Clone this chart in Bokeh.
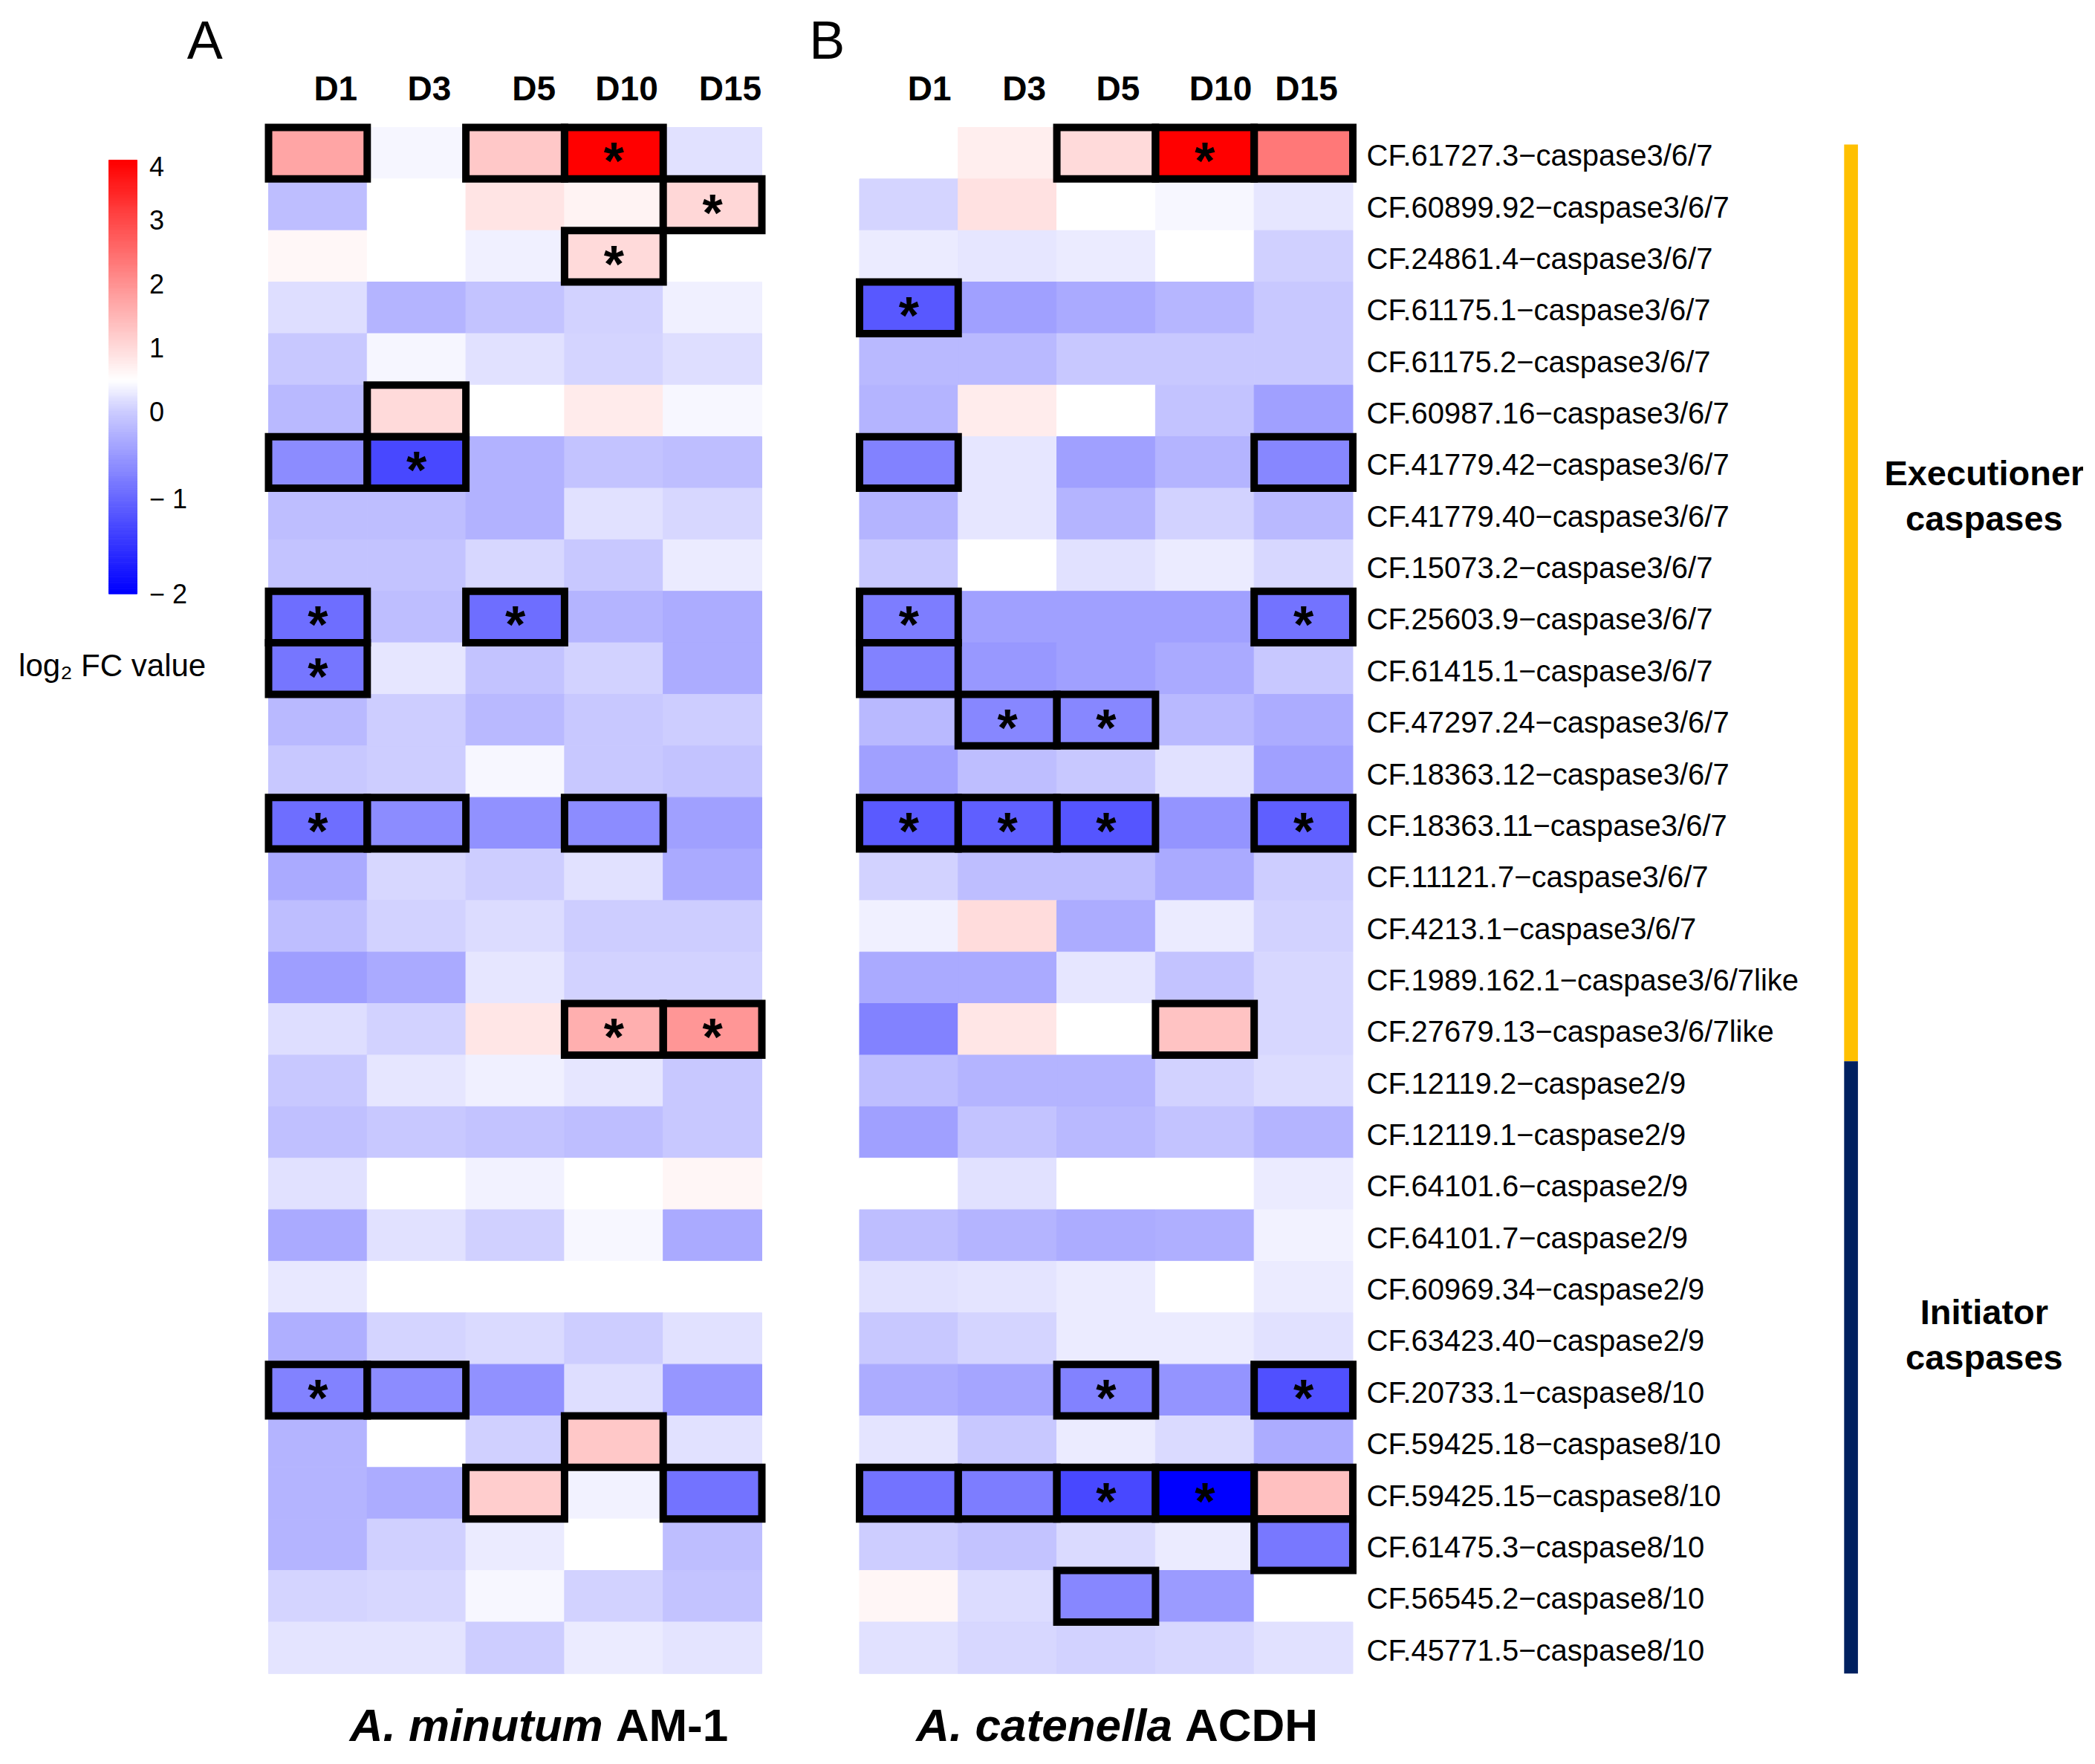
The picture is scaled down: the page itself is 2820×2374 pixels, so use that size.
import numpy as np
from bokeh.plotting import figure
from bokeh.models import Range1d, ColumnDataSource, LinearColorMapper
from bokeh.transform import transform
from bokeh.core.properties import value
from bokeh.embed import file_html
from bokeh.resources import INLINE

# ---------------- data ----------------
genes = [
    "CF.61727.3−caspase3/6/7", "CF.60899.92−caspase3/6/7", "CF.24861.4−caspase3/6/7",
    "CF.61175.1−caspase3/6/7", "CF.61175.2−caspase3/6/7", "CF.60987.16−caspase3/6/7",
    "CF.41779.42−caspase3/6/7", "CF.41779.40−caspase3/6/7", "CF.15073.2−caspase3/6/7",
    "CF.25603.9−caspase3/6/7", "CF.61415.1−caspase3/6/7", "CF.47297.24−caspase3/6/7",
    "CF.18363.12−caspase3/6/7", "CF.18363.11−caspase3/6/7", "CF.11121.7−caspase3/6/7",
    "CF.4213.1−caspase3/6/7", "CF.1989.162.1−caspase3/6/7like", "CF.27679.13−caspase3/6/7like",
    "CF.12119.2−caspase2/9", "CF.12119.1−caspase2/9", "CF.64101.6−caspase2/9",
    "CF.64101.7−caspase2/9", "CF.60969.34−caspase2/9", "CF.63423.40−caspase2/9",
    "CF.20733.1−caspase8/10", "CF.59425.18−caspase8/10", "CF.59425.15−caspase8/10",
    "CF.61475.3−caspase8/10", "CF.56545.2−caspase8/10", "CF.45771.5−caspase8/10",
]
days = ["D1", "D3", "D5", "D10", "D15"]

# log2 FC, A. minutum AM-1 (rows = genes, cols = days)
am_values = [
    [1.74, 0.41, 1.25, 4.00, 0.21],
    [-0.14, 0.50, 0.87, 0.66, 1.05],
    [0.61, 0.50, 0.35, 1.01, 0.50],
    [0.18, -0.24, -0.09, 0.06, 0.35],
    [-0.04, 0.41, 0.21, 0.08, 0.18],
    [-0.19, 1.01, 0.50, 0.77, 0.42],
    [-0.63, -1.29, -0.25, -0.09, -0.14],
    [-0.14, -0.14, -0.25, 0.21, 0.11],
    [-0.09, -0.09, 0.11, -0.04, 0.30],
    [-0.92, -0.14, -0.92, -0.24, -0.31],
    [-0.84, 0.25, -0.09, 0.06, -0.31],
    [-0.19, 0.01, -0.19, -0.04, 0.01],
    [-0.04, 0.01, 0.42, -0.04, -0.09],
    [-0.92, -0.63, -0.58, -0.63, -0.43],
    [-0.33, 0.11, 0.01, 0.21, -0.33],
    [-0.14, 0.06, 0.16, 0.01, 0.01],
    [-0.45, -0.33, 0.25, 0.06, 0.06],
    [0.18, 0.06, 0.84, 1.60, 1.94],
    [-0.04, 0.25, 0.35, 0.25, -0.04],
    [-0.12, -0.04, -0.09, -0.14, -0.04],
    [0.21, 0.50, 0.37, 0.50, 0.62],
    [-0.33, 0.21, 0.04, 0.42, -0.33],
    [0.27, 0.50, 0.50, 0.50, 0.50],
    [-0.28, 0.08, 0.14, 0.01, 0.21],
    [-0.73, -0.63, -0.58, 0.18, -0.53],
    [-0.24, 0.50, 0.04, 1.25, 0.21],
    [-0.24, -0.31, 1.19, 0.37, -0.87],
    [-0.24, 0.04, 0.30, 0.50, -0.14],
    [0.08, 0.11, 0.42, 0.06, -0.09],
    [0.24, 0.24, 0.01, 0.30, 0.24],
]

# log2 FC, A. catenella ACDH
ac_values = [
    [0.50, 0.73, 1.01, 4.00, 2.35],
    [0.08, 0.91, 0.50, 0.42, 0.25],
    [0.30, 0.25, 0.30, 0.50, 0.04],
    [-1.14, -0.43, -0.33, -0.22, -0.04],
    [-0.19, -0.19, -0.04, -0.04, -0.04],
    [-0.24, 0.76, 0.50, -0.09, -0.43],
    [-0.73, 0.25, -0.43, -0.24, -0.68],
    [-0.24, 0.25, -0.24, 0.06, -0.19],
    [-0.04, 0.50, 0.21, 0.30, 0.11],
    [-0.77, -0.43, -0.43, -0.43, -0.87],
    [-0.73, -0.51, -0.43, -0.33, -0.04],
    [-0.19, -0.68, -0.68, -0.19, -0.31],
    [-0.43, -0.14, -0.04, 0.21, -0.43],
    [-1.12, -1.07, -1.17, -0.55, -1.07],
    [0.06, -0.14, -0.14, -0.33, 0.01],
    [0.35, 0.98, -0.31, 0.30, 0.06],
    [-0.33, -0.33, 0.25, -0.09, 0.11],
    [-0.73, 0.84, 0.50, 1.32, 0.11],
    [-0.14, -0.24, -0.24, 0.06, 0.16],
    [-0.43, -0.09, -0.19, -0.09, -0.24],
    [0.50, 0.21, 0.50, 0.50, 0.30],
    [-0.14, -0.24, -0.31, -0.28, 0.37],
    [0.21, 0.24, 0.30, 0.50, 0.30],
    [-0.04, 0.08, 0.30, 0.30, 0.21],
    [-0.31, -0.38, -0.73, -0.55, -1.22],
    [0.24, -0.04, 0.30, 0.14, -0.31],
    [-0.87, -0.77, -1.29, -2.00, 1.36],
    [0.01, -0.09, 0.14, 0.30, -0.82],
    [0.62, 0.16, -0.68, -0.48, 0.50],
    [0.21, 0.11, 0.06, 0.11, 0.21],
]

# 0 = not marked, 1 = boxed, 2 = boxed + asterisk
am_sig = [
    [1, 0, 1, 2, 0], [0, 0, 0, 0, 2], [0, 0, 0, 2, 0], [0, 0, 0, 0, 0], [0, 0, 0, 0, 0],
    [0, 1, 0, 0, 0], [1, 2, 0, 0, 0], [0, 0, 0, 0, 0], [0, 0, 0, 0, 0], [2, 0, 2, 0, 0],
    [2, 0, 0, 0, 0], [0, 0, 0, 0, 0], [0, 0, 0, 0, 0], [2, 1, 0, 1, 0], [0, 0, 0, 0, 0],
    [0, 0, 0, 0, 0], [0, 0, 0, 0, 0], [0, 0, 0, 2, 2], [0, 0, 0, 0, 0], [0, 0, 0, 0, 0],
    [0, 0, 0, 0, 0], [0, 0, 0, 0, 0], [0, 0, 0, 0, 0], [0, 0, 0, 0, 0], [2, 1, 0, 0, 0],
    [0, 0, 0, 1, 0], [0, 0, 1, 0, 1], [0, 0, 0, 0, 0], [0, 0, 0, 0, 0], [0, 0, 0, 0, 0],
]
ac_sig = [
    [0, 0, 1, 2, 1], [0, 0, 0, 0, 0], [0, 0, 0, 0, 0], [2, 0, 0, 0, 0], [0, 0, 0, 0, 0],
    [0, 0, 0, 0, 0], [1, 0, 0, 0, 1], [0, 0, 0, 0, 0], [0, 0, 0, 0, 0], [2, 0, 0, 0, 2],
    [1, 0, 0, 0, 0], [0, 2, 2, 0, 0], [0, 0, 0, 0, 0], [2, 2, 2, 0, 2], [0, 0, 0, 0, 0],
    [0, 0, 0, 0, 0], [0, 0, 0, 0, 0], [0, 0, 0, 1, 0], [0, 0, 0, 0, 0], [0, 0, 0, 0, 0],
    [0, 0, 0, 0, 0], [0, 0, 0, 0, 0], [0, 0, 0, 0, 0], [0, 0, 0, 0, 0], [0, 0, 2, 0, 2],
    [0, 0, 0, 0, 0], [1, 1, 2, 2, 1], [0, 0, 0, 0, 1], [0, 0, 1, 0, 0], [0, 0, 0, 0, 0],
]

panel_letters = ["A", "B"]
panel_species = ["A. minutum", "A. catenella"]
panel_strains = ["AM-1", "ACDH"]
group_names = ["Executioner\ncaspases", "Initiator\ncaspases"]
group_sizes = [18, 12]
group_colors = ["#FFC000", "#002060"]
cb_ticks = [-2, -1, 0, 1, 2, 3, 4]
cb_labels = ["− 2", "− 1", "0", "1", "2", "3", "4"]

# ---------------- layout ----------------
W, H = 2804, 2358
COL_PX, ROW_PX = 132.8, 69.36
LEFT_PX, TOP_PX = 361.0, 171.0
PANEL_X = [0.0, 5.99]
LABEL_X = 11.13
HEADER_DX = [[0.18, 0.13, 0.19, 0.13, 0.18], [0.21, 0.17, 0.12, 0.16, 0.03]]
HEADER_Y = -0.75
LETTER_X, LETTER_Y = [-0.645, 5.66], -1.70
TITLE_SPLIT_X, TITLE_Y = [3.39, 9.16], 31.0
BAR_X0, BAR_X1, BAR_TOP, BAR_SHIFT = 15.97, 16.11, 0.33, 0.12
GROUP_LABEL_X, GROUP_LABEL_Y = 17.39, [7.15, 23.42]
CB_X0, CB_X1 = -1.619, -1.333
CB_TICK_Y = [9.05, 7.21, 5.51, 4.28, 3.03, 1.80, 0.634]   # legend positions of cb_ticks
CB_LABEL_Y = [9.05, 7.21, 5.51, 4.28, 3.03, 1.80, 0.76]
CB_LABEL_X = -1.209
CB_TITLE_X, CB_TITLE_Y = -1.584, 10.44
FONT = value("Liberation Sans")

x0 = -LEFT_PX / COL_PX
y_top = -TOP_PX / ROW_PX
p = figure(width=W, height=H,
           x_range=Range1d(x0, x0 + W / COL_PX),
           y_range=Range1d(y_top + H / ROW_PX, y_top),
           x_axis_type=None, y_axis_type=None,
           toolbar_location=None, output_backend="svg", min_border=0)
p.outline_line_color = None
p.background_fill_color = "white"
p.border_fill_color = "white"

# colour mapping: blue (-2) -> white (0.5) -> red (4)
anchors = [-2.0, 0.5, 4.0]
vv = np.linspace(-2, 4, 601)
rr = np.interp(vv, anchors, [0, 255, 255])
gg = np.interp(vv, anchors, [0, 255, 0])
bb = np.interp(vv, anchors, [255, 255, 0])
palette = ["#%02x%02x%02x" % (int(round(r)), int(round(g)), int(round(b))) for r, g, b in zip(rr, gg, bb)]
mapper = LinearColorMapper(palette=palette, low=-2, high=4)

cells = dict(x=[], y=[], v=[])
boxes = dict(x=[], y=[])
stars = dict(x=[], y=[])
for off, vals, sig in zip(PANEL_X, [am_values, ac_values], [am_sig, ac_sig]):
    for i, row in enumerate(vals):
        for j, v in enumerate(row):
            cx, cy = off + j + 0.5, i + 0.5
            cells["x"].append(cx); cells["y"].append(cy); cells["v"].append(v)
            if sig[i][j] > 0:
                boxes["x"].append(cx); boxes["y"].append(cy)
            if sig[i][j] == 2:
                stars["x"].append(cx); stars["y"].append(cy)

p.rect(x="x", y="y", width=1, height=1, source=ColumnDataSource(cells),
       fill_color=transform("v", mapper), line_color=transform("v", mapper), line_width=1)
p.rect(x="x", y="y", width=1, height=1, source=ColumnDataSource(boxes),
       fill_color=None, line_color="black", line_width=10, line_join="miter")
p.text(x="x", y="y", text=value("*"), source=ColumnDataSource(stars),
       text_align="center", text_baseline="middle", text_font=FONT, text_font_style="bold",
       text_font_size="70px", text_color="black", y_offset=11)

# column headers
hx, hy, ht = [], [], []
for k, off in enumerate(PANEL_X):
    for j, d in enumerate(days):
        hx.append(off + j + 0.5 + HEADER_DX[k][j]); hy.append(HEADER_Y); ht.append(d)
p.text(x=hx, y=hy, text=ht, text_align="center", text_baseline="middle",
       text_font=FONT, text_font_style="bold", text_font_size="46px", text_color="black")

# panel letters
p.text(x=LETTER_X, y=[LETTER_Y] * 2, text=panel_letters, text_align="center",
       text_baseline="middle", text_font=FONT, text_font_size="72px", text_color="black")

# panel titles (italic species + strain)
p.text(x=TITLE_SPLIT_X, y=[TITLE_Y] * 2, text=panel_species, text_align="right",
       text_baseline="middle", text_font=FONT, text_font_style="bold italic",
       text_font_size="62px", text_color="black")
p.text(x=TITLE_SPLIT_X, y=[TITLE_Y] * 2, text=panel_strains, text_align="left",
       text_baseline="middle", text_font=FONT, text_font_style="bold", x_offset=17,
       text_font_size="62px", text_color="black")

# row labels
p.text(x=[LABEL_X] * len(genes), y=[i + 0.5 for i in range(len(genes))], text=genes,
       text_align="left", text_baseline="middle", text_font=FONT,
       text_font_size="40px", text_color="black", y_offset=3)

# group bar
edges = np.concatenate([[0], np.cumsum(group_sizes)]).astype(float)
tops = [edges[0] + BAR_TOP] + [e + BAR_SHIFT for e in edges[1:-1]]
bottoms = [e + BAR_SHIFT for e in edges[1:-1]] + [edges[-1]]
p.quad(left=BAR_X0, right=BAR_X1, top=tops, bottom=bottoms, fill_color=group_colors,
       line_color=None)
p.text(x=[GROUP_LABEL_X] * 2, y=GROUP_LABEL_Y, text=group_names, text_align="center",
       text_baseline="middle", text_font=FONT, text_font_style="bold",
       text_font_size="47px", text_color="black", text_line_height=1.15)

# colour-bar legend (same mapper, legend tick spacing as in the original key)
lv = np.linspace(cb_ticks[0], cb_ticks[-1], 481)
ly = np.interp(lv, cb_ticks, CB_TICK_Y)
leg = dict(v=(lv[:-1] + lv[1:]) / 2, top=ly[1:], bottom=ly[:-1])
p.quad(left=CB_X0, right=CB_X1, top="top", bottom="bottom", source=ColumnDataSource(leg),
       fill_color=transform("v", mapper), line_color=transform("v", mapper), line_width=1)
p.text(x=[CB_LABEL_X] * len(cb_labels), y=CB_LABEL_Y, text=cb_labels, text_align="left",
       text_baseline="middle", text_font=FONT, text_font_size="36px", text_color="black")
p.text(x=[CB_TITLE_X], y=[CB_TITLE_Y], text=["log₂ FC value"], text_align="center",
       text_baseline="middle", text_font=FONT, text_font_size="42px", text_color="black")

open("out.html", "w").write(file_html(p, INLINE))
